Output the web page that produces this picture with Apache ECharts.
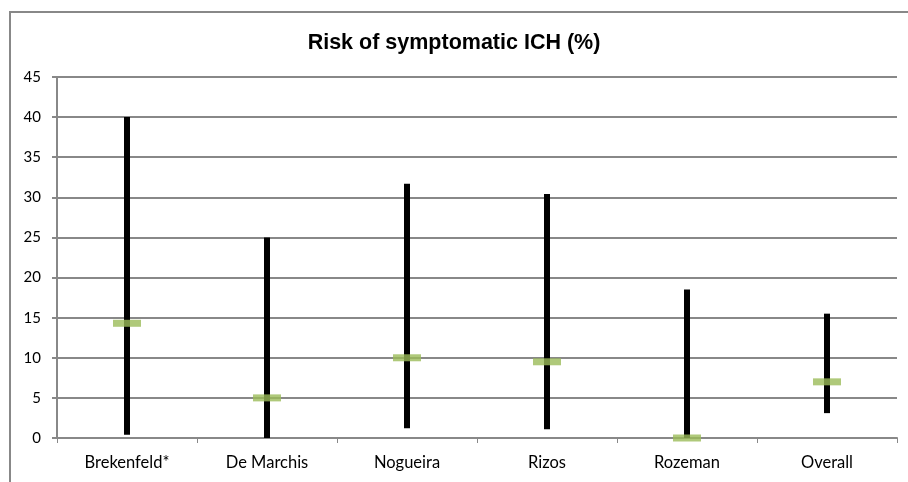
<!DOCTYPE html>
<html><head><meta charset="utf-8">
<script src="https://cdn.jsdelivr.net/npm/echarts@6/dist/echarts.min.js"></script>
<style>html,body{margin:0;padding:0;background:#fff}#c{width:908px;height:482px}</style>
</head><body><div id="c"></div>
<script>
const categories = ["Brekenfeld*", "De Marchis", "Nogueira", "Rizos", "Rozeman", "Overall"];
const lowValues  = [0.4, 0, 1.2, 1.1, 0, 3.1];
const highValues = [40, 25, 31.7, 30.4, 18.5, 15.5];
const pointValues = [14.3, 5, 10, 9.5, 0, 7];
const yTicks = [0, 5, 10, 15, 20, 25, 30, 35, 40, 45];

const chart = echarts.init(document.getElementById('c'), null, {renderer: 'canvas'});
const lab = "Lato, 'Open Sans', sans-serif";
chart.setOption({
  animation: false,
  backgroundColor: '#fff',
  title: {
    text: 'Risk of symptomatic ICH (%)', left: 'center', top: 27,
    textStyle: {fontFamily: "'Liberation Sans', Arial, sans-serif", fontWeight: 'bold', fontSize: 21.5, color: '#000'}
  },
  graphic: [{type: 'rect', shape: {x: 10, y: 12, width: 1000, height: 1000}, style: {fill: 'none', stroke: '#888', lineWidth: 2}, silent: true}],
  grid: {left: 57, right: 11, top: 77, bottom: 44},
  xAxis: {
    type: 'category', data: categories, boundaryGap: true,
    axisLine: {lineStyle: {color: '#888', width: 2}},
    axisTick: {show: true, length: 5, lineStyle: {color: '#888'}},
    axisLabel: {fontFamily: lab, fontSize: 16.5, color: '#000', margin: 16}
  },
  yAxis: {
    type: 'value', min: yTicks[0], max: yTicks[yTicks.length - 1], interval: 5,
    axisLine: {show: true, lineStyle: {color: '#888', width: 2}},
    axisTick: {show: true, length: 5, lineStyle: {color: '#888', width: 2}},
    splitLine: {lineStyle: {color: '#888', width: 2}},
    axisLabel: {fontFamily: lab, fontSize: 15, color: '#000', margin: 16}
  },
  series: [
    {type: 'bar', stack: 'r', data: lowValues, itemStyle: {color: 'transparent'}, barWidth: 6, silent: true},
    {type: 'bar', stack: 'r', data: highValues.map((h, i) => +(h - lowValues[i]).toFixed(2)), itemStyle: {color: '#000'}, barWidth: 6},
    {type: 'scatter', data: pointValues, symbol: 'rect', symbolSize: [28, 7], itemStyle: {color: '#9bbb59'}, z: 5}
  ]
});
</script></body></html>
